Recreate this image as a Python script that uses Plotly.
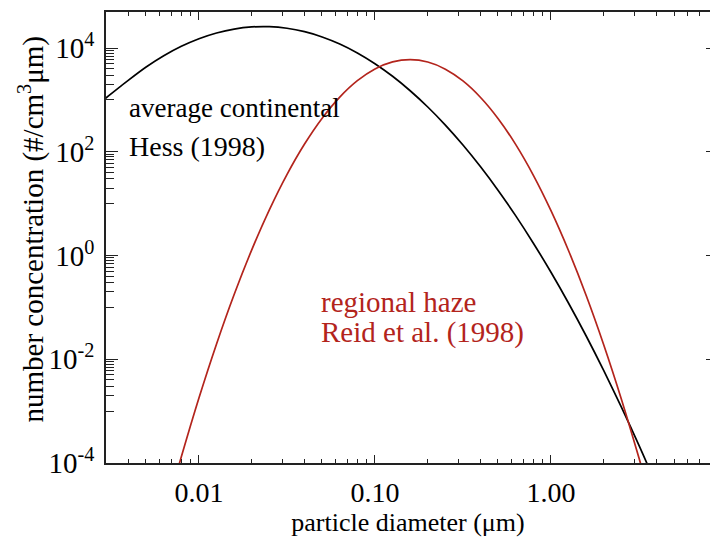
import plotly.graph_objects as go

# ---- data ----
hess_diameter = [0.002951, 0.003981, 0.005012, 0.006310, 0.007943, 0.01, 0.01259, 0.01585,
                 0.01995, 0.02512, 0.03162, 0.03981, 0.05012, 0.0631, 0.07943, 0.1,
                 0.1259, 0.1585, 0.1995, 0.2512, 0.3162, 0.3981, 0.5012, 0.631,
                 0.7943, 1.0, 1.259, 1.585, 1.995, 2.512, 3.162, 3.981]
hess_conc = [1080, 2409, 4311, 7112, 10812, 15154, 19568, 23305,
             25573, 25863, 24122, 20720, 16418, 11982, 8064, 5000,
             2860, 1506, 731.5, 327.6, 135.1, 51.4, 18.0, 5.82,
             1.73, 0.476, 0.1204, 0.0281, 0.00604, 0.001196, 0.0002185, 0.0000368]

reid_diameter = [0.007079, 0.007943, 0.01, 0.01259, 0.01585, 0.01995, 0.02512, 0.03162,
                 0.03981, 0.05012, 0.0631, 0.07943, 0.1, 0.1259, 0.1585, 0.1995,
                 0.2512, 0.3162, 0.3981, 0.5012, 0.631, 0.7943, 1.0, 1.259,
                 1.585, 1.995, 2.512, 3.162, 3.548]
reid_conc = [0.0000330, 0.0001315, 0.001789, 0.01976, 0.1771, 1.287, 7.593, 36.33,
             141.1, 444.5, 1136, 2356, 3965, 5413, 5998, 5391,
             3931, 2327, 1117, 435.3, 137.6, 35.28, 7.343, 1.239,
             0.1698, 0.01887, 0.001702, 0.0001245, 0.0000311]

x_tickvals = [0.01, 0.1, 1.0]
x_ticktext = ["0.01", "0.10", "1.00"]
y_tickvals = [1e-4, 1e-2, 1e0, 1e2, 1e4]
y_ticktext = ["10<sup>-4</sup>", "10<sup>-2</sup>", "10<sup>0</sup>",
              "10<sup>2</sup>", "10<sup>4</sup>"]
# minor ticks: one decade below each labelled power (as in the reference)
y_minor_tickvals = [k * 10.0 ** (p - 1) for p in (4, 2, 0, -2) for k in range(1, 10)]

x_title = "particle diameter (μm)"
y_title = "number concentration (#/cm<sup>3</sup>μm)"

x_range_log = [-2.528, 0.9034]
y_range_log = [-4.0, 4.696]

black = "#000000"
red = "#b3241c"
axis_col = "#222222"
FONT = "Liberation Serif, Times New Roman, serif"

fig = go.Figure()
fig.add_trace(go.Scatter(x=hess_diameter, y=hess_conc, mode="lines",
                         line=dict(color=black, width=1.7, shape="spline", smoothing=0.8),
                         showlegend=False, hoverinfo="skip"))
fig.add_trace(go.Scatter(x=reid_diameter, y=reid_conc, mode="lines",
                         line=dict(color=red, width=1.7, shape="spline", smoothing=0.8),
                         showlegend=False, hoverinfo="skip"))
# carrier trace for the right-hand tick axis
fig.add_trace(go.Scatter(x=[None], y=[None], yaxis="y2", mode="lines",
                         showlegend=False, hoverinfo="skip"))

fig.update_layout(
    width=710, height=538,
    margin=dict(l=106, r=0, t=12, b=75),
    paper_bgcolor="white", plot_bgcolor="white",
    font=dict(family=FONT, size=26, color="black"),
    xaxis=dict(
        type="log", range=x_range_log,
        showline=True, linecolor=axis_col, linewidth=1.6, mirror="ticks",
        showgrid=False, zeroline=False,
        ticks="inside", ticklen=8, tickwidth=1.3, tickcolor=axis_col,
        tickvals=x_tickvals, ticktext=x_ticktext,
        tickfont=dict(family=FONT, size=28, color="black"),
        ticklabelstandoff=4,
        minor=dict(ticks="inside", ticklen=4, tickwidth=1.3, tickcolor=axis_col,
                   dtick="D1", showgrid=False),
        title=dict(text=x_title, standoff=1,
                   font=dict(family=FONT, size=26, color="black")),
    ),
    yaxis=dict(
        type="log", range=y_range_log,
        showline=True, linecolor=axis_col, linewidth=1.6, mirror=False,
        showgrid=False, zeroline=False,
        ticks="inside", ticklen=12, tickwidth=1.3, tickcolor=axis_col,
        tickvals=y_tickvals, ticktext=y_ticktext,
        tickfont=dict(family=FONT, size=29, color="black"),
        ticklabelstandoff=4,
        minor=dict(ticks="inside", ticklen=8, tickwidth=1.3, tickcolor=axis_col,
                   tickvals=y_minor_tickvals, showgrid=False),
    ),
    yaxis2=dict(
        type="log", range=y_range_log, overlaying="y", side="right", anchor="x",
        showline=False, showgrid=False, zeroline=False,
        ticks="inside", ticklen=4, tickwidth=1.3, tickcolor=axis_col,
        tickvals=y_tickvals, showticklabels=False,
    ),
)

# y-axis title (placed as a rotated annotation, slightly above the plot centre as in the reference)
fig.add_annotation(text=y_title, xref="paper", yref="paper", x=-0.124, y=0.518,
                   xanchor="center", yanchor="middle", textangle=-90, showarrow=False,
                   font=dict(family=FONT, size=29, color="black"))

annotations = [
    dict(text="average continental", x=-2.409, y=2.85, color=black, size=27),
    dict(text="Hess (1998)", x=-2.409, y=2.11, color=black, size=28),
    dict(text="regional haze", x=-1.318, y=-0.90, color=red, size=29),
    dict(text="Reid et al. (1998)", x=-1.318, y=-1.49, color=red, size=29),
]
for a in annotations:
    fig.add_annotation(text=a["text"], x=a["x"], y=a["y"], xref="x", yref="y",
                       xanchor="left", yanchor="middle", showarrow=False,
                       font=dict(family=FONT, size=a["size"], color=a["color"]))

fig.write_html("out.html")
